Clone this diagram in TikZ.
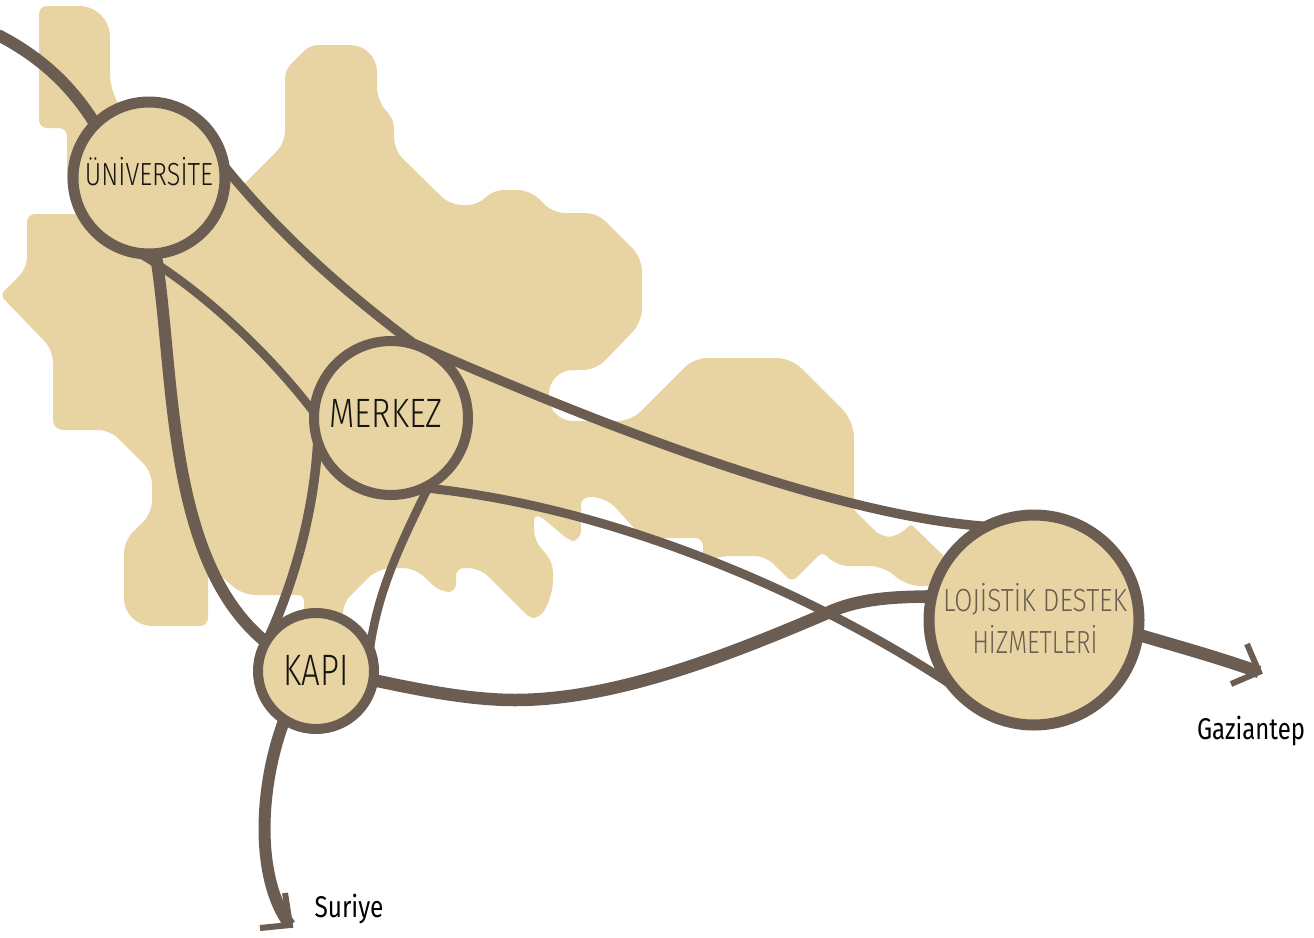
\documentclass[tikz,border=0pt]{standalone}
\usepackage{graphicx}
\usepackage{fontspec}
\setmainfont{Fira Sans}[UprightFont={* Light},BoldFont={*}]
\definecolor{sand}{HTML}{E8D4A2}
\definecolor{umber}{HTML}{6B5D52}
\definecolor{ink}{HTML}{171510}
\newcommand{\fitw}[2]{\resizebox{#1pt}{\height}{#2}}
\tikzset{
  place/.style={circle,draw=umber,fill=sand,inner sep=0pt,outer sep=0pt,line width=#1},
  link/.style={draw=umber,line width=#1,line cap=butt},
  head/.style={draw=umber,line width=6pt,miter limit=10,line join=miter},
  caption/.style={inner sep=0pt,outer sep=0pt,anchor=base,text=ink,font=\fontsize{32}{36}\selectfont},
  greycap/.style={caption,text=umber},
  placename/.style={inner sep=0pt,outer sep=0pt,anchor=base,text=black,font=\bfseries\fontsize{30}{34}\selectfont},
}
\begin{document}
\begin{tikzpicture}[x=1pt,y=-1pt]
\useasboundingbox (0,0) rectangle (1314,937);
% land
\fill[sand]
 (150,180)
 [rounded corners=0pt] -- (67,180)
 [rounded corners=8pt] -- (67,128) -- (39,128) -- (39,6)
 [rounded corners=31pt] -- (110,6)
 [rounded corners=10pt] -- (110,85)
 [rounded corners=0pt] -- (125,120) -- (245,183)
 [rounded corners=11pt] -- (285,143)
 [rounded corners=8pt] -- (285,70) -- (310,45)
 [rounded corners=27pt] -- (377,45)
 [rounded corners=12pt] -- (377,100)
 [rounded corners=8pt] -- (394,120)
 [rounded corners=12pt] -- (394,150)
 [rounded corners=12pt] -- (450,205)
 [rounded corners=10pt] -- (478,205) -- (493,190)
 [rounded corners=12pt] -- (530,190) -- (553,213)
 [rounded corners=11pt] -- (597,213)
 [rounded corners=13pt] -- (642,258) -- (642,322)
 [rounded corners=13pt] -- (596,370)
 [rounded corners=24pt] -- (549,370)
 [rounded corners=24pt] -- (549,421)
 [rounded corners=13pt] -- (631,421)
 [rounded corners=13pt] -- (694,358)
 [rounded corners=14pt] -- (791,358)
 [rounded corners=16pt] -- (854,421)
 [rounded corners=3pt] -- (854,510)
 [rounded corners=10pt] -- (881,537) -- (897,537)
 [rounded corners=3pt] -- (911,524)
 [rounded corners=0pt] -- (960,572) -- (950,586)
 [rounded corners=15pt] -- (905,586) -- (885,566)
 [rounded corners=10pt] -- (838,566)
 [rounded corners=5pt] -- (822,552)
 [rounded corners=6pt] -- (792,582)
 [rounded corners=10pt] -- (765,556)
 [rounded corners=8pt] -- (722,556)
 [rounded corners=1pt] -- (703,562)
 [rounded corners=8pt] -- (703,538)
 [rounded corners=2pt] -- (643,538)
 [rounded corners=14pt] -- (606,497)
 [rounded corners=8pt] -- (581,497)
 [rounded corners=10pt] -- (581,541)
 [rounded corners=6pt] -- (570,541)
 [rounded corners=4pt] -- (540,516) -- (534,516)
 [rounded corners=10pt] -- (534,540) -- (553,562)
 [rounded corners=15pt] -- (553,595)
 [rounded corners=8pt] -- (540,618)
 [rounded corners=5pt] -- (530,618)
 [rounded corners=12pt] -- (480,568)
 [rounded corners=8pt] -- (456,568) -- (456,592)
 [rounded corners=10pt] -- (440,592)
 [rounded corners=12pt] -- (415,568)
 [rounded corners=14pt] -- (378,568)
 [rounded corners=10pt] -- (343,603)
 [rounded corners=0pt] -- (343,640) -- (304,640)
 [rounded corners=6pt] -- (304,595)
 [rounded corners=12pt] -- (243,595)
 [rounded corners=0pt] -- (208,565)
 [rounded corners=8pt] -- (208,626)
 [rounded corners=28pt] -- (124,626)
 [rounded corners=12pt] -- (124,541)
 [rounded corners=12pt] -- (152,513) -- (152,472) -- (110,430)
 [rounded corners=10pt] -- (53,430)
 [rounded corners=12pt] -- (53,350)
 [rounded corners=6pt] -- (0,295)
 [rounded corners=10pt] -- (27,268)
 [rounded corners=8pt] -- (27,214)
 [rounded corners=0pt] -- (90,214) -- cycle;
% places
\node[place=11pt,minimum size=152pt] (uni) at (149,178) {};
\node[place=10pt,minimum size=154pt] (mer) at (391,418) {};
\node[place=10pt,minimum size=116pt] (kap) at (316,671) {};
\node[place=11pt,minimum size=210pt] (loj) at (1034,620) {};
\coordinate (west) at (-2,35);
\coordinate (wa) at (515,700);
\coordinate (wb) at (825,614);
\coordinate (surTip) at (290,925);
\coordinate (surA) at (260,928);
\coordinate (surB) at (285,893);
\coordinate (gazTip) at (1259,672);
\coordinate (gazA) at (1247,644);
\coordinate (gazB) at (1231,684);
\coordinate (tang) at (413,343);
% connectors
\draw[link=12pt] (west) .. controls (37,55) and (70,83) .. (uni.135);
\draw[link=9.5pt] (uni.9) .. controls (280,235) and (345,292) .. (tang)
   .. controls (600,425) and (830,515) .. (loj.117);
\draw[link=8.5pt] (uni.-97) .. controls (205,292) and (270,355) .. (mer.176);
\draw[link=12pt] (uni.-85) .. controls (175,370) and (165,560) .. (kap.150);
\draw[link=9.5pt] (mer.-162) .. controls (314,510) and (295,580) .. (kap.145);
\draw[link=8.5pt] (mer.-60) .. controls (400,545) and (378,590) .. (kap.22);
\draw[link=9pt] (mer.-65) .. controls (600,505) and (800,585) .. (loj.-142);
\draw[link=12.5pt] (kap.-9) .. controls (420,690) and (470,700) .. (wa)
   .. controls (620,700) and (740,650) .. (wb)
   .. controls (860,597) and (900,597) .. (loj.167);
\draw[link=12pt] (kap.-123) .. controls (258,790) and (256,880) .. (surTip);
\draw[link=12.5pt] (loj.-8) .. controls (1180,647) and (1220,658) .. (gazTip);
\draw[head] (surA) -- (surTip) -- (surB);
\draw[head] (gazA) -- (gazTip) -- (gazB);
% labels
\node[caption] (tuni) at (149,185) {\fitw{128}{ÜNİVERSİTE}};
\node[caption,font=\fontsize{41}{44}\selectfont] (tmer) at (386,427) {\fitw{113}{MERKEZ}};
\node[caption,font=\fontsize{44}{48}\selectfont] (tkap) at (316,685) {\fitw{65}{KAPI}};
\node[greycap] (tloj) at (1035,611) {\fitw{184}{LOJİSTİK DESTEK}};
\node[greycap] (thiz) at (1035,653) {\fitw{125}{HİZMETLERİ}};
\node[placename] (tgaz) at (1251,739) {\fitw{108}{Gaziantep}};
\node[placename] (tsur) at (349,917) {\fitw{69}{Suriye}};
\end{tikzpicture}
\end{document}
